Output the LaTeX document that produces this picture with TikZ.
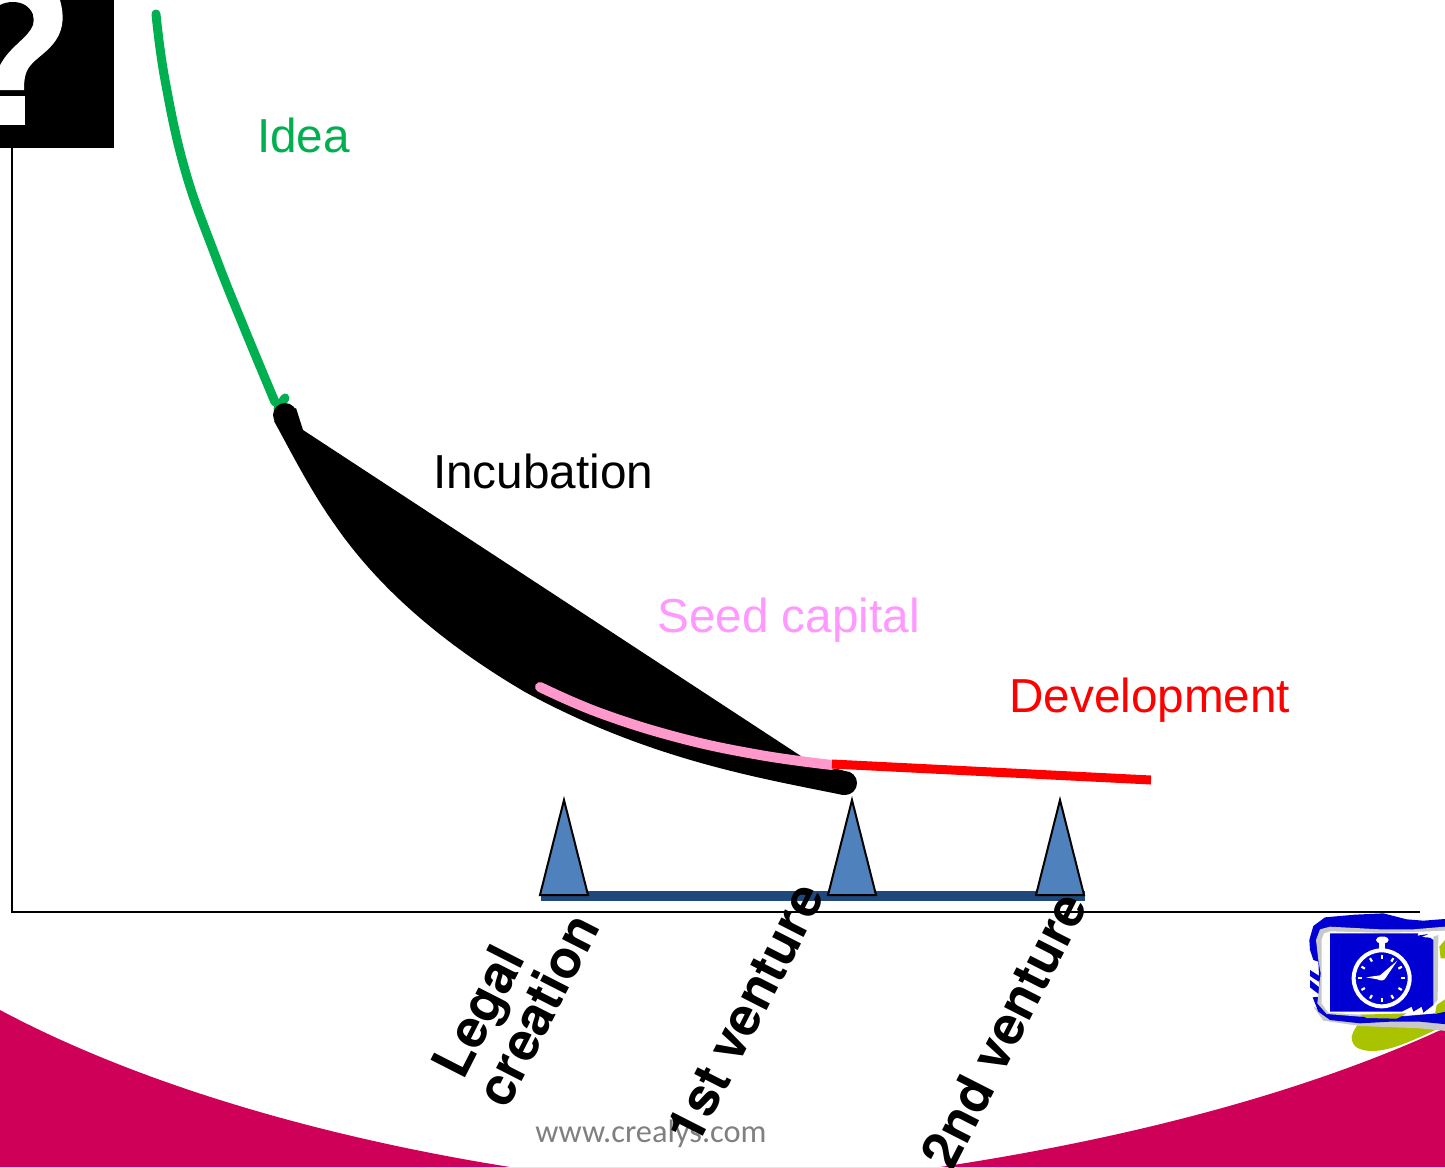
\documentclass[tikz,border=0pt]{standalone}
\usepackage{fontspec}
\setmainfont{Liberation Sans}
\newfontfamily\wmfont{Carlito}
\newfontfamily\milefont{TeX Gyre Heros}
\definecolor{crimson}{HTML}{CF0058}
\definecolor{ideagreen}{HTML}{00B050}
\definecolor{seedpink}{HTML}{FF99CC}
\definecolor{seedtext}{HTML}{FF99FF}
\definecolor{wedgeblue}{HTML}{4F81BD}
\definecolor{barblue}{HTML}{1F497D}
\definecolor{olive}{HTML}{A9C300}
\definecolor{iconblue}{HTML}{0000D2}
\definecolor{rimgray}{HTML}{C8C8C8}
\tikzset{
  phase/.style={anchor=base west,font=\fontsize{47.7}{50}\selectfont,inner sep=0pt},
  milestone/.style={font=\milefont\bfseries\fontsize{53}{52}\selectfont,rotate=63,align=center,inner sep=0pt},
  wedge/.style={draw=black,line width=2pt,fill=wedgeblue,line join=miter},
  curve/.style={line cap=round,line join=round}
}
\begin{document}
\begin{tikzpicture}[x=1pt,y=-1pt]
\useasboundingbox (0,0) rectangle (1445,1167);
\clip (0,0) rectangle (1445,1167);
\fill[white] (0,0) rectangle (1445,1167);
% crimson band
\fill[crimson] (0,1010) .. controls (150,1090) and (340,1140) .. (510,1167)
  -- (940,1167) .. controls (1120,1140) and (1300,1095) .. (1445,1028) -- (1445,1167) -- (0,1167) -- cycle;
\node[text=gray,font=\wmfont\fontsize{32.4}{33}\selectfont,inner sep=0pt] (site) at (651,1134) {www.crealys.com};
% axes
\draw[line width=2pt] (12,148) -- (12,912) -- (1420,912);
% question box
\fill[black] (0,0) rectangle (114,148);
\fill[white] (0,0) -- (60,0) .. controls (64,14) and (64,28) .. (56,40)
  .. controls (48,52) and (36,58) .. (30,66) .. controls (25,72) and (24,80) .. (24,90) -- (0,90) -- cycle;
\fill[black] (0,5) .. controls (8,1) and (18,1) .. (25,5) .. controls (33,10) and (35,18) .. (33,25)
  .. controls (28,38) and (10,46) .. (0,65) -- cycle;
\fill[white] (0,96) rectangle (25,125);
% green curve
\draw[curve,ideagreen,line width=9pt] plot[smooth,tension=0.7] coordinates
  {(156,14) (165,80) (185,170) (215,255) (245,330) (275,402)};
\draw[curve,ideagreen,line width=9pt] (278,408) -- (285,398);
% black wedge
\fill[black] (296,408) -- (303,430) -- (810,762) -- (845,771) -- (850,790) -- (843,795)
  .. controls (760,778) and (650,760) .. (525,692)
  .. controls (445,645) and (380,590) .. (335,525)
  .. controls (310,490) and (290,450) .. (274,421) -- cycle;
\fill[black] (285,415) circle (12);
\fill[black] (845,783) circle (12);
% seed curve
\draw[curve,seedpink,line width=10pt] plot[smooth,tension=0.7] coordinates
  {(540,687) (600,713) (680,738) (760,755) (832,765)};
% development
\draw[red,line width=9pt] (832,764) -- (1151,780);
% milestone bar and wedges
\draw[barblue,line width=10pt] (541,896) -- (1085,896);
\draw[wedge] (564,800) -- (588,895) -- (540,895) -- cycle;
\draw[wedge] (852,800) -- (876,895) -- (828,895) -- cycle;
\draw[wedge] (1060,800) -- (1084,895) -- (1036,895) -- cycle;
% labels
\node[phase,text=ideagreen] (idea) at (257,152) {Idea};
\node[phase,text=black] (incubation) at (433,488) {Incubation};
\node[phase,text=seedtext] (seed) at (657,632) {Seed capital};
\node[phase,text=red] (development) at (1009,712) {Development};
\node[milestone] (legal) at (514,998) {Legal\hspace*{56pt}\\creation};
\node[milestone] (first) at (745,1013) {1st venture};
\node[milestone] (second) at (1004,1030) {2nd venture};
% stopwatch icon
\begin{scope}[shift={(1280,890)},x=0.3333pt,y=-0.3333pt]
  \fill[olive] (215,440) .. controls (225,400) and (260,370) .. (330,370) -- (470,330) -- (520,300) -- (520,395)
    .. controls (420,440) and (340,485) .. (270,483) .. controls (235,480) and (215,470) .. (215,440) -- cycle;
  \fill[rimgray] (100,350) -- (130,392) -- (240,408) -- (420,415) -- (520,425) -- (520,400) -- (140,370) -- cycle;
  \fill[iconblue] (88,150) -- (100,108) -- (135,82) -- (225,74) -- (310,70) -- (380,88) -- (430,92) -- (520,85)
    -- (520,405) -- (420,395) -- (330,395) -- (240,400) -- (150,390) -- (115,365) -- (98,322) -- (120,320)
    -- (115,215) -- (100,210) -- (90,180) -- cycle;
  \fill[iconblue] (90,240) -- (118,258) -- (116,275) -- (90,258) -- cycle;
  \fill[iconblue] (90,270) -- (118,292) -- (118,314) -- (90,292) -- cycle;
  \fill[rimgray] (108,150) -- (120,118) -- (150,110) -- (300,118) -- (400,118) -- (495,110) -- (495,330)
    -- (465,370) -- (380,378) -- (240,380) -- (140,372) -- (112,340) -- (122,250) -- (115,210) -- cycle;
  \fill[white] (125,150) -- (132,130) -- (150,124) -- (300,128) -- (400,126) -- (495,122) -- (495,330)
    -- (465,370) -- (380,376) -- (240,374) -- (145,368) -- (125,340) -- cycle;
  \fill[olive] (478,170) -- (495,150) -- (495,205) -- (482,205) -- cycle;
  \fill[olive] (470,345) -- (495,328) -- (495,365) -- (465,372) -- cycle;
  \fill[olive] (240,374) -- (380,370) -- (350,386) -- (260,384) -- cycle;
  \fill[rimgray] (460,140) -- (475,135) -- (473,330) -- (460,345) -- cycle;
  \fill[iconblue] (150,130) -- (415,130) -- (412,137) -- (445,132) -- (425,141) -- (450,143) -- (460,150) -- (460,345)
    -- (430,368) -- (425,350) -- (400,365) -- (395,350) -- (365,365) -- (150,365) -- cycle;
  \fill[white,rounded corners=4pt] (288,140) rectangle (326,160);
  \fill[white] (297,158) rectangle (316,180);
  \draw[white,line width=4pt] (305,265) circle (84);
  \foreach \a in {0,30,...,330}
    \draw[white,line width=2.2pt] ({305+58*cos(\a)},{265+58*sin(\a)}) -- ({305+70*cos(\a)},{265+70*sin(\a)});
  \fill[white] (258,262) -- (300,256) -- (352,212) -- (314,268) .. controls (305,275) and (295,270) .. (292,268) -- cycle;
\end{scope}
\end{tikzpicture}
\end{document}
